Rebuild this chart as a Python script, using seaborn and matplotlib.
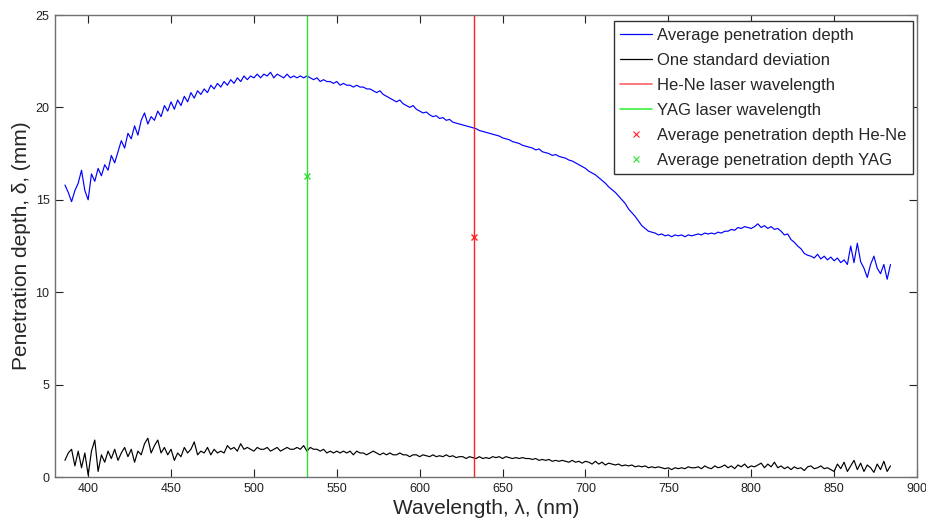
import numpy as np
import pandas as pd
import matplotlib
matplotlib.use("Agg")
import matplotlib.pyplot as plt
import seaborn as sns
from matplotlib.lines import Line2D

# ---------------- data ----------------
wavelength = np.arange(386, 885, 2)

avg_depth = [
    15.8, 15.4, 14.9, 15.5, 15.9, 16.6, 15.5, 15.0, 16.4, 16.0,
    16.7, 16.3, 16.9, 16.6, 17.4, 17.0, 17.6, 18.2, 17.8, 18.6,
    18.3, 19.0, 18.5, 19.3, 19.7, 19.1, 19.5, 19.3, 19.8, 19.5,
    20.1, 19.8, 20.3, 19.9, 20.4, 20.1, 20.6, 20.3, 20.8, 20.5,
    20.9, 20.7, 21.0, 20.8, 21.2, 21.0, 21.3, 21.1, 21.4, 21.2,
    21.5, 21.3, 21.6, 21.4, 21.7, 21.5, 21.7, 21.6, 21.8, 21.6,
    21.8, 21.7, 21.9, 21.6, 21.8, 21.7, 21.6, 21.8, 21.6, 21.7,
    21.6, 21.7, 21.6, 21.7, 21.6, 21.5, 21.6, 21.4, 21.5, 21.4,
    21.4, 21.3, 21.4, 21.2, 21.3, 21.2, 21.2, 21.1, 21.2, 21.1,
    21.1, 21.0, 21.0, 20.9, 20.8, 20.9, 20.7, 20.6, 20.5, 20.4,
    20.3, 20.4, 20.2, 20.1, 20.0, 20.1, 19.9, 19.8, 19.7, 19.75,
    19.6, 19.5, 19.55, 19.4, 19.45, 19.3, 19.35, 19.2, 19.15, 19.1,
    19.05, 19.0, 18.95, 18.9, 18.85, 18.75, 18.7, 18.65, 18.6, 18.55,
    18.5, 18.45, 18.35, 18.3, 18.25, 18.15, 18.1, 18.05, 17.95, 17.9,
    17.85, 17.8, 17.7, 17.75, 17.6, 17.55, 17.5, 17.4, 17.45, 17.35,
    17.3, 17.25, 17.15, 17.1, 17.0, 16.9, 16.8, 16.7, 16.55, 16.45,
    16.35, 16.2, 16.05, 15.9, 15.7, 15.55, 15.4, 15.2, 15.0, 14.8,
    14.5, 14.3, 14.1, 13.85, 13.6, 13.45, 13.3, 13.25, 13.2, 13.1,
    13.15, 13.05, 13.1, 13.0, 13.1, 13.05, 13.1, 13.0, 13.1, 13.05,
    13.1, 13.15, 13.1, 13.2, 13.15, 13.2, 13.15, 13.25, 13.2, 13.3,
    13.3, 13.4, 13.35, 13.5, 13.45, 13.55, 13.5, 13.45, 13.55, 13.7,
    13.5, 13.6, 13.45, 13.55, 13.4, 13.45, 13.3, 13.1, 13.15, 12.85,
    12.7, 12.5, 12.35, 12.1, 12.0, 11.95, 11.85, 12.05, 11.8, 11.95,
    11.75, 11.9, 11.7, 11.85, 11.6, 11.75, 11.5, 12.5, 11.6, 12.65,
    11.65, 11.3, 10.8, 11.5, 11.95, 11.3, 11.0, 11.5, 10.7, 11.5,
]

std_dev = [
    0.9, 1.3, 1.5, 0.6, 1.4, 0.5, 1.3, 0.1, 1.4, 2.0,
    0.3, 1.2, 0.8, 1.4, 1.0, 1.5, 0.9, 1.3, 1.6, 1.1,
    1.5, 0.8, 1.4, 1.2, 1.8, 2.1, 1.3, 1.7, 2.0, 1.3,
    1.6, 1.2, 1.5, 0.9, 1.3, 1.1, 1.6, 1.3, 1.5, 1.9,
    1.2, 1.4, 1.3, 1.6, 1.2, 1.5, 1.3, 1.4, 1.3, 1.7,
    1.5, 1.6, 1.4, 1.8, 1.5, 1.6, 1.5, 1.4, 1.6, 1.5,
    1.5, 1.6, 1.4, 1.5, 1.6, 1.4, 1.5, 1.6, 1.5, 1.5,
    1.6, 1.5, 1.7, 1.4, 1.6, 1.5, 1.5, 1.4, 1.5, 1.3,
    1.4, 1.3, 1.4, 1.3, 1.4, 1.3, 1.4, 1.2, 1.4, 1.3,
    1.3, 1.2, 1.3, 1.4, 1.3, 1.2, 1.3, 1.2, 1.3, 1.2,
    1.2, 1.3, 1.2, 1.2, 1.1, 1.2, 1.2, 1.1, 1.2, 1.15,
    1.1, 1.2, 1.1, 1.15, 1.1, 1.2, 1.1, 1.15, 1.05, 1.1,
    1.1, 1.0, 1.1, 1.05, 1.0, 1.1, 1.0, 1.05, 1.0, 1.1,
    1.05, 1.1, 1.0, 1.1, 1.05, 1.0, 1.05, 1.0, 1.05, 1.0,
    1.0, 0.95, 1.0, 0.9, 0.95, 0.9, 0.95, 0.85, 0.9, 0.85,
    0.9, 0.85, 0.8, 0.9, 0.8, 0.85, 0.75, 0.85, 0.8, 0.7,
    0.85, 0.7, 0.8, 0.65, 0.75, 0.7, 0.65, 0.7, 0.6, 0.65,
    0.6, 0.65, 0.55, 0.6, 0.55, 0.6, 0.5, 0.55, 0.5, 0.55,
    0.5, 0.45, 0.5, 0.4, 0.5, 0.45, 0.5, 0.45, 0.55, 0.5,
    0.5, 0.55, 0.45, 0.6, 0.5, 0.45, 0.6, 0.5, 0.55, 0.65,
    0.5, 0.6, 0.45, 0.65, 0.55, 0.7, 0.5, 0.6, 0.55, 0.65,
    0.75, 0.5, 0.7, 0.55, 0.8, 0.5, 0.6, 0.45, 0.55, 0.4,
    0.55, 0.45, 0.5, 0.35, 0.55, 0.6, 0.45, 0.5, 0.6, 0.45,
    0.5, 0.4, 0.3, 0.7, 0.45, 0.8, 0.3, 0.6, 0.9, 0.4,
    0.75, 0.3, 0.65, 0.5, 0.25, 0.7, 0.4, 0.85, 0.3, 0.6,
]

hene_wavelength = 632.8
yag_wavelength = 532.0
hene_depth = 13.0
yag_depth = 16.3

x_ticks = [400, 450, 500, 550, 600, 650, 700, 750, 800, 850, 900]
y_ticks = [0, 5, 10, 15, 20, 25]

legend_labels = [
    "Average penetration depth",
    "One standard deviation",
    "He-Ne laser wavelength",
    "YAG laser wavelength",
    "Average penetration depth He-Ne",
    "Average penetration depth YAG",
]

assert len(avg_depth) == len(wavelength) == len(std_dev)

df = pd.DataFrame({"wavelength": wavelength, "avg": avg_depth, "std": std_dev})

# ---------------- style ----------------
sns.set_style("white")
plt.rcParams["font.family"] = ["Liberation Sans", "DejaVu Sans"]

fig = plt.figure(figsize=(9.26, 5.27), dpi=100)
ax = fig.add_axes([55 / 926, 50 / 527, 862 / 926, 462 / 527])

sns.lineplot(data=df, x="wavelength", y="avg", color="#0000ff", lw=0.85, ax=ax)
sns.lineplot(data=df, x="wavelength", y="std", color="#000000", lw=0.85, ax=ax)

ax.axvline(hene_wavelength, color="#ff2020", lw=1.0)
ax.axvline(yag_wavelength, color="#30e030", lw=1.0)
ax.plot([hene_wavelength], [hene_depth], "x", color="#ff2020", ms=4, mew=1)
ax.plot([yag_wavelength], [yag_depth], "x", color="#30e030", ms=4, mew=1)

ax.set_xlim(380, 900)
ax.set_ylim(0, 25)
ax.set_xticks(x_ticks)
ax.set_yticks(y_ticks)

tick_font = ["Liberation Sans Narrow", "Liberation Sans", "DejaVu Sans"]
for lbl in ax.get_xticklabels() + ax.get_yticklabels():
    lbl.set_family(tick_font)
    lbl.set_fontsize(9)
    lbl.set_color("#222222")

ax.tick_params(direction="in", length=6, width=0.8, color="#222222",
               top=True, right=True, bottom=True, left=True, pad=4)
for s in ax.spines.values():
    s.set_color("#707070")
    s.set_linewidth(1.0)
    s.set_visible(True)

ax.set_xlabel("Wavelength, λ, (nm)", fontsize=15, labelpad=3)
ax.set_ylabel("Penetration depth, δ, (mm)", fontsize=15, labelpad=3)

handles = [
    Line2D([], [], color="#0000ff", lw=0.9),
    Line2D([], [], color="#000000", lw=0.9),
    Line2D([], [], color="#ff6060", lw=1.2),
    Line2D([], [], color="#40f040", lw=1.2),
    Line2D([], [], ls="none", marker="x", color="#ff2020", ms=4, mew=0.8),
    Line2D([], [], ls="none", marker="x", color="#30e030", ms=4, mew=0.8),
]
leg = ax.legend(handles, legend_labels, loc="upper right",
                bbox_to_anchor=(0.9954, 0.987), borderaxespad=0,
                fontsize=12, frameon=True, fancybox=False, framealpha=1,
                edgecolor="#333333", handlelength=1.9, handletextpad=0.3,
                labelspacing=0.6, borderpad=0.4)
leg.get_frame().set_linewidth(1.0)

fig.savefig("out.png", dpi=100)
